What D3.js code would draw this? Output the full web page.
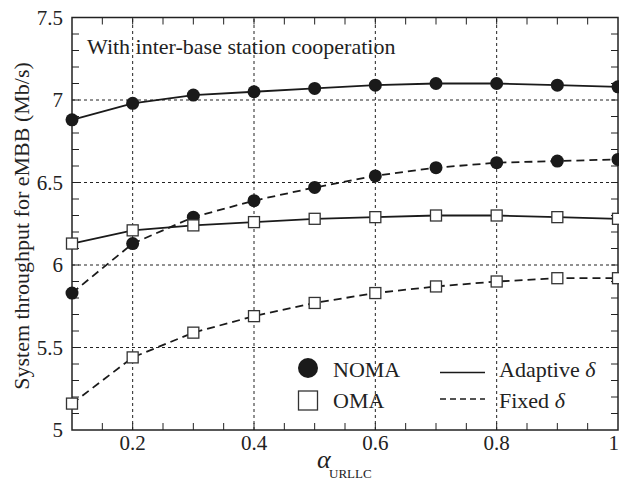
<!DOCTYPE html>
<html lang="en">
<head>
<meta charset="utf-8">
<style>
  body { margin: 0; background: #fff; }
  svg { font-family: "Liberation Serif", "DejaVu Serif", serif; }
  .grid line { stroke: #222; stroke-width: 1; stroke-dasharray: 3,3; }
  .frame { fill: none; stroke: #222; stroke-width: 1.5; }
  .tick-mark { stroke: #222; stroke-width: 1; }
  .series { fill: none; stroke: #1a1a1a; stroke-width: 1.8; }
</style>
<script src="https://d3js.org/d3.v7.min.js"></script>
</head>
<body>
<svg width="619" height="480"></svg>
<script>
// alpha_URLLC values
var alpha = [0.1, 0.2, 0.3, 0.4, 0.5, 0.6, 0.7, 0.8, 0.9, 1.0];

// system throughput for eMBB (Mb/s)
var nomaAdaptive = [6.88, 6.98, 7.03, 7.05, 7.07, 7.09, 7.10, 7.10, 7.09, 7.08];
var nomaFixed    = [5.83, 6.13, 6.29, 6.39, 6.47, 6.54, 6.59, 6.62, 6.63, 6.64];
var omaAdaptive  = [6.13, 6.21, 6.24, 6.26, 6.28, 6.29, 6.30, 6.30, 6.29, 6.28];
var omaFixed     = [5.16, 5.44, 5.59, 5.69, 5.77, 5.83, 5.87, 5.90, 5.92, 5.92];

var xTicks = [0.2, 0.4, 0.6, 0.8, 1];
var yTicks = [5, 5.5, 6, 6.5, 7, 7.5];

var svg = d3.select("svg");

var x = d3.scaleLinear().domain([0.1, 1]).range([72, 618]);
var y = d3.scaleLinear().domain([5, 7.5]).range([430, 17.5]);

// grid
var grid = svg.append("g").attr("class", "grid");
grid.selectAll(".gx").data([0.2, 0.4, 0.6, 0.8]).enter().append("line")
    .attr("x1", function(d) { return x(d); }).attr("x2", function(d) { return x(d); })
    .attr("y1", y(5)).attr("y2", y(7.5));
grid.selectAll(".gy").data([5.5, 6, 6.5, 7]).enter().append("line")
    .attr("x1", x(0.1)).attr("x2", x(1))
    .attr("y1", function(d) { return y(d); }).attr("y2", function(d) { return y(d); });

// minor tick marks, pointing inward on all four sides
var xMinor = d3.range(0.15, 1.0, 0.05);
var yMinor = d3.range(5.1, 7.45, 0.1);
var tk = svg.append("g");
xMinor.forEach(function(v) {
  tk.append("line").attr("class", "tick-mark")
    .attr("x1", x(v)).attr("x2", x(v)).attr("y1", y(5)).attr("y2", y(5) - 7);
  tk.append("line").attr("class", "tick-mark")
    .attr("x1", x(v)).attr("x2", x(v)).attr("y1", y(7.5)).attr("y2", y(7.5) + 7);
});
yMinor.forEach(function(v) {
  tk.append("line").attr("class", "tick-mark")
    .attr("x1", x(0.1)).attr("x2", x(0.1) + 7).attr("y1", y(v)).attr("y2", y(v));
  tk.append("line").attr("class", "tick-mark")
    .attr("x1", x(1)).attr("x2", x(1) - 7).attr("y1", y(v)).attr("y2", y(v));
});

svg.append("rect").attr("class", "frame")
    .attr("x", x(0.1)).attr("y", y(7.5))
    .attr("width", x(1) - x(0.1)).attr("height", y(5) - y(7.5));

// tick labels
svg.append("g").selectAll("text").data(xTicks).enter().append("text")
    .attr("x", function(d) { return x(d); })
    .attr("y", 450)
    .attr("text-anchor", function(d) { return d === 1 ? "end" : "middle"; })
    .attr("dx", function(d) { return d === 1 ? 1 : 0; })
    .attr("font-size", 21)
    .attr("fill", "#222")
    .text(function(d) { return d === 1 ? "1" : d3.format(".1f")(d); });

svg.append("g").selectAll("text").data(yTicks).enter().append("text")
    .attr("x", 63)
    .attr("y", function(d) { return y(d) + 7; })
    .attr("text-anchor", "end")
    .attr("font-size", 21)
    .attr("fill", "#222")
    .text(function(d) { return d % 1 === 0 ? d3.format("d")(d) : d3.format(".1f")(d); });

// axis titles
svg.append("text")
    .attr("transform", "translate(29,226) rotate(-90)")
    .attr("text-anchor", "middle")
    .attr("font-size", 22)
    .attr("fill", "#222")
    .text("System throughput for eMBB (Mb/s)");

var xl = svg.append("text").attr("x", 317).attr("y", 468)
    .attr("font-size", 26).attr("fill", "#222");
xl.append("tspan").attr("font-style", "italic").text("α");
xl.append("tspan").attr("font-size", 13).attr("x", 329).attr("y", 478).text("URLLC");

svg.append("text")
    .attr("x", 87).attr("y", 54)
    .attr("font-size", 22)
    .attr("fill", "#222")
    .text("With inter-base station cooperation");

// series
var series = [
  { values: nomaAdaptive, marker: "circle", dash: null },
  { values: nomaFixed,    marker: "circle", dash: "8,5" },
  { values: omaAdaptive,  marker: "square", dash: null },
  { values: omaFixed,     marker: "square", dash: "8,5" }
];

var line = d3.line()
    .x(function(d, i) { return x(alpha[i]); })
    .y(function(d) { return y(d); });

series.forEach(function(s) {
  svg.append("path")
      .attr("class", "series")
      .attr("d", line(s.values))
      .attr("stroke-dasharray", s.dash);
});

series.forEach(function(s) {
  var g = svg.append("g");
  s.values.forEach(function(v, i) {
    if (s.marker === "circle") {
      g.append("circle")
          .attr("cx", x(alpha[i])).attr("cy", y(v)).attr("r", 6.5)
          .attr("fill", "#1a1a1a");
    } else {
      g.append("rect")
          .attr("x", x(alpha[i]) - 5.5).attr("y", y(v) - 5.5)
          .attr("width", 11).attr("height", 11)
          .attr("fill", "#fff").attr("stroke", "#333").attr("stroke-width", 1.3);
    }
  });
});

// legend
var lg = svg.append("g");
lg.append("circle").attr("cx", 308).attr("cy", 368).attr("r", 10).attr("fill", "#1a1a1a");
lg.append("rect").attr("x", 298.5).attr("y", 391).attr("width", 19).attr("height", 19)
    .attr("fill", "#fff").attr("stroke", "#333").attr("stroke-width", 1.3);
lg.append("text").attr("x", 333).attr("y", 377).attr("font-size", 22).attr("fill", "#222").text("NOMA");
lg.append("text").attr("x", 333).attr("y", 408).attr("font-size", 22).attr("fill", "#222").text("OMA");
lg.append("line").attr("class", "series").attr("x1", 440).attr("x2", 485).attr("y1", 372.5).attr("y2", 372.5)
    .style("stroke-width", 1.3);
lg.append("line").attr("class", "series").attr("x1", 440).attr("x2", 485).attr("y1", 399).attr("y2", 399)
    .attr("stroke-dasharray", "6,4").style("stroke-width", 1.3);
var t1 = lg.append("text").attr("x", 499).attr("y", 377).attr("font-size", 22).attr("fill", "#222");
t1.append("tspan").text("Adaptive ");
t1.append("tspan").attr("font-style", "italic").text("δ");
var t2 = lg.append("text").attr("x", 499).attr("y", 408).attr("font-size", 22).attr("fill", "#222");
t2.append("tspan").text("Fixed ");
t2.append("tspan").attr("font-style", "italic").text("δ");
</script>
</body>
</html>
